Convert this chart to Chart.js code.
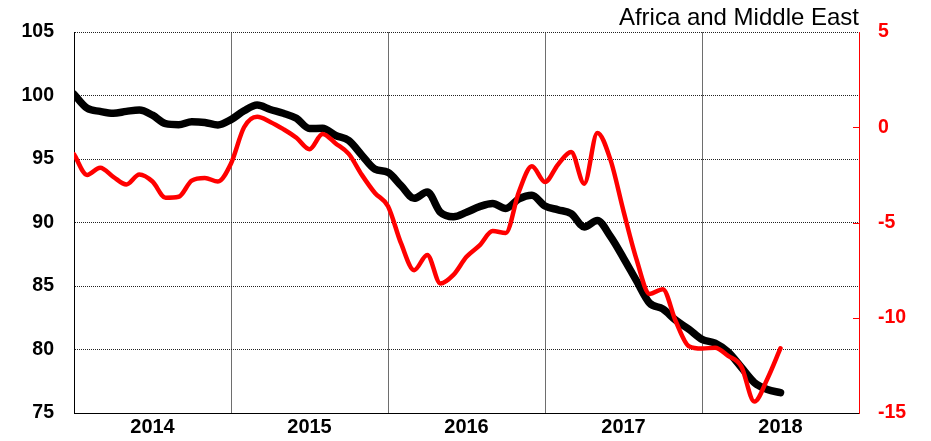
<!DOCTYPE html>
<html>
<head>
<meta charset="utf-8">
<script src="https://cdn.jsdelivr.net/npm/chart.js@4"></script>
<style>
  html, body { margin: 0; padding: 0; background: #fff; }
  #wrap { width: 931px; height: 441px; }
</style>
</head>
<body>
<div id="wrap"><canvas id="c" width="931" height="441"></canvas></div>
<script>
// Year labels (axis spans Jan 2014 .. Dec 2018, 60 months)
const years = ['2014', '2015', '2016', '2017', '2018'];
const chartTitle = 'Africa and Middle East';

// Monthly observations, Jan 2014 .. Jul 2018 (month offset = array index)
const indexSeries = [100.1, 99.0, 98.75, 98.6, 98.75, 98.86, 98.45, 97.78, 97.7, 97.94,
  97.88, 97.68, 98.1, 98.8, 99.25, 98.9, 98.6, 98.2, 97.4, 97.42,
  96.85, 96.45, 95.3, 94.2, 93.95, 92.9, 91.9, 92.4, 90.8, 90.45,
  90.8, 91.25, 91.5, 91.1, 91.85, 92.15, 91.3, 91.0, 90.7, 89.65,
  90.15, 88.9, 87.2, 85.4, 83.65, 83.2, 82.3, 81.6, 80.8, 80.5,
  79.8, 78.6, 77.4, 76.85, 76.6];

const changeSeries = [-1.42, -2.5, -2.12, -2.6, -3.0, -2.48, -2.85, -3.7, -3.65, -2.8,
  -2.66, -2.85, -1.9, 0.0, 0.55, 0.28, -0.1, -0.55, -1.15, -0.35,
  -0.85, -1.4, -2.5, -3.45, -4.15, -6.1, -7.5, -6.7, -8.2, -7.75,
  -6.8, -6.2, -5.45, -5.55, -3.4, -2.05, -2.87, -1.95, -1.3, -2.96,
  -0.3, -1.7, -4.4, -6.95, -8.75, -8.5, -10.2, -11.5, -11.62, -11.57,
  -12.0, -12.55, -14.4, -13.2, -11.6];

const FONT = "'Liberation Sans', Arial, Helvetica, sans-serif";
const toPoints = arr => arr.map((v, i) => ({ x: i, y: v }));

const innerTicks = {
  id: 'innerTicks',
  afterDraw(chart) {
    const s = chart.scales.y2;
    const ctx = chart.ctx;
    ctx.save();
    ctx.strokeStyle = '#ff0000';
    ctx.lineWidth = 1;
    s.ticks.forEach(t => {
      if (t.value === s.min || t.value === s.max) return;
      const y = Math.round(s.getPixelForValue(t.value)) + 0.5;
      ctx.beginPath();
      ctx.moveTo(s.left - 6, y);
      ctx.lineTo(s.left, y);
      ctx.stroke();
    });
    ctx.restore();
  }
};

new Chart(document.getElementById('c'), {
  type: 'line',
  data: {
    datasets: [
      { data: toPoints(changeSeries), yAxisID: 'y2', borderColor: '#ff0000', borderWidth: 4.5, pointRadius: 0,
        cubicInterpolationMode: 'monotone', borderCapStyle: 'round', borderJoinStyle: 'round', order: 0 },
      { data: toPoints(indexSeries), yAxisID: 'y', borderColor: '#000000', borderWidth: 7.5, pointRadius: 0,
        cubicInterpolationMode: 'monotone', borderCapStyle: 'round', borderJoinStyle: 'round', order: 1 }
    ]
  },
  options: {
    responsive: false,
    animation: false,
    devicePixelRatio: 1,
    layout: { padding: 0 },
    plugins: {
      legend: { display: false },
      tooltip: { enabled: false },
      title: {
        display: true, text: chartTitle, align: 'end', fullSize: false, color: '#000',
        font: { family: FONT, size: 24, weight: 'normal', lineHeight: 1.0 },
        padding: { top: 6.3, bottom: 1.7 }
      }
    },
    scales: {
      x: {
        type: 'linear', min: 0, max: 60,
        afterFit: s => { s.height = 28; s.paddingLeft = 0; s.paddingRight = 0; },
        ticks: { stepSize: 6, autoSkip: false, maxRotation: 0, padding: 3, color: '#000',
          font: { family: FONT, size: 20, weight: 'bold', lineHeight: 1.14 },
          callback: v => (v % 12 === 6 ? years[(v - 6) / 12] : '') },
        grid: { drawTicks: false, lineWidth: 1,
          color: ctx => { const v = ctx.tick ? ctx.tick.value : 0; return (v % 12 === 0 && v > 0 && v < 60) ? '#6e6e6e' : 'rgba(0,0,0,0)'; } },
        border: { display: true, color: '#000', width: 1 }
      },
      y: {
        position: 'left', min: 75, max: 105,
        afterFit: s => { s.width = 74; s.paddingTop = 0; s.paddingBottom = 0; },
        ticks: { stepSize: 5, padding: 20, color: '#000', font: { family: FONT, size: 19.5, weight: 'bold' } },
        grid: { drawTicks: false, color: '#222', lineWidth: 1 },
        border: { display: true, color: '#000', width: 1, dash: [1, 1] }
      },
      y2: {
        position: 'right', min: -15, max: 5,
        afterFit: s => { s.width = 72; s.paddingTop = 0; s.paddingBottom = 0; },
        ticks: { stepSize: 5, padding: 19, color: '#ff0000', font: { family: FONT, size: 19.5, weight: 'bold' } },
        grid: { drawOnChartArea: false, drawTicks: false },
        border: { display: true, color: '#ff0000', width: 1 }
      }
    }
  },
  plugins: [innerTicks]
});
</script>
</body>
</html>
